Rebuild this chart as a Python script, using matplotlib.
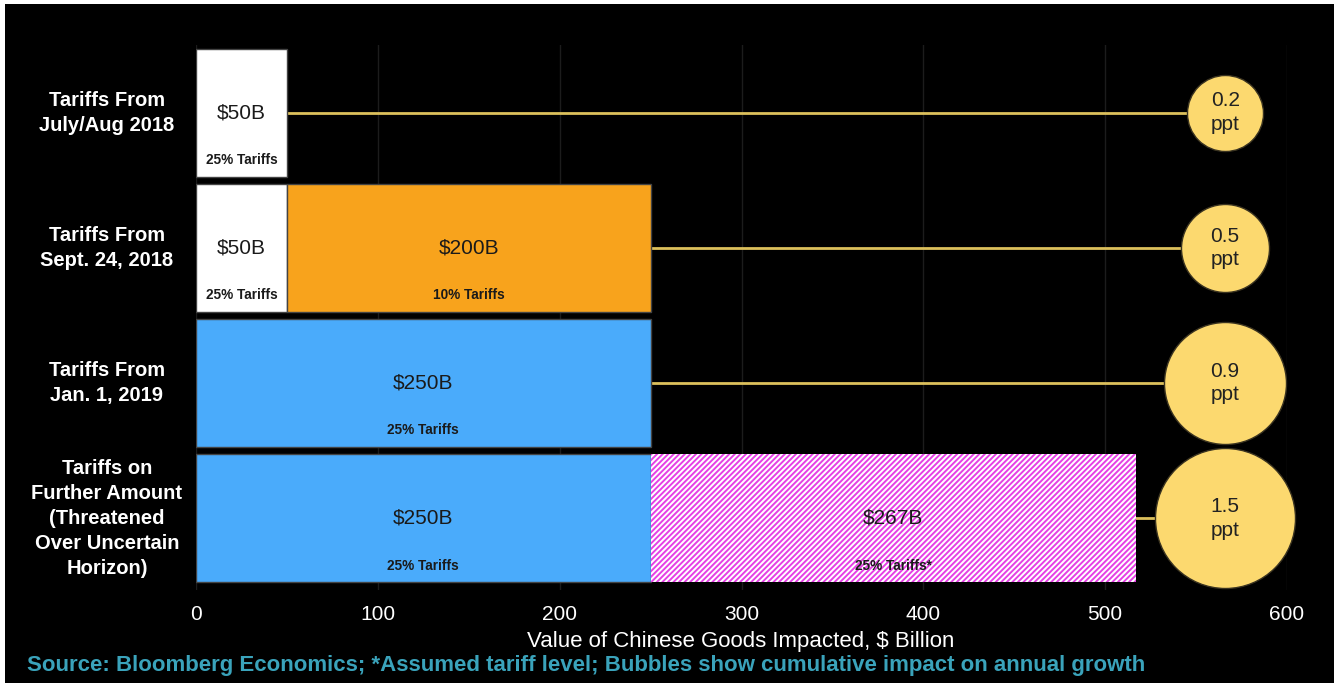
import matplotlib.pyplot as plt
from matplotlib.patches import Rectangle
from matplotlib.transforms import blended_transform_factory

plt.rcParams['font.family'] = ['Liberation Sans', 'DejaVu Sans']
plt.rcParams['hatch.linewidth'] = 1.4

# data
row_labels = [
    'Tariffs From\nJuly/Aug 2018',
    'Tariffs From\nSept. 24, 2018',
    'Tariffs From\nJan. 1, 2019',
    'Tariffs on\nFurther Amount\n(Threatened\nOver Uncertain\nHorizon)',
]
# segments per row: (start, width, kind, amount label, tariff label)
segments = [
    [(0, 50, 'first', '$50B', '25% Tariffs')],
    [(0, 50, 'first', '$50B', '25% Tariffs'),
     (50, 200, 'second', '$200B', '10% Tariffs')],
    [(0, 250, 'combined', '$250B', '25% Tariffs')],
    [(0, 250, 'combined', '$250B', '25% Tariffs'),
     (250, 267, 'threat', '$267B', '25% Tariffs*')],
]
impact_ppt = [0.2, 0.5, 0.9, 1.5]
bubble_x = 566
xticks = [0, 100, 200, 300, 400, 500, 600]

# styles
bubble_radius_px = [38, 44, 61, 70]
fills = {'first': '#ffffff', 'second': '#f8a31c', 'combined': '#4aabfb', 'threat': '#ffffff'}
yellow = '#fcd96f'
line_yellow = '#dcc05c'
teal = '#3aa3bb'

W, H, DPI = 1334, 683, 100
fig = plt.figure(figsize=(W / DPI, H / DPI), dpi=DPI)
fig.patch.set_facecolor('white')
fig.patches.append(Rectangle((5 / W, 0), 1, 1 - 4 / H, transform=fig.transFigure,
                             facecolor='black', edgecolor='none', zorder=-10))

ax = fig.add_axes([196 / W, 1 - 590 / H, (1287 - 196) / W, (590 - 45) / H])
ax.set_facecolor('black')
ax.set_xlim(0, 600)
ax.set_ylim(3.53, -0.5)
ax.set_xticks(xticks)
ax.set_yticks([])
for s in ax.spines.values():
    s.set_visible(False)
ax.tick_params(axis='x', length=0, pad=11, labelsize=15, labelcolor='white')
ax.grid(axis='x', color='#1c1c1c', linewidth=1)
ax.set_axisbelow(True)

bar_h = 0.945
for i, row in enumerate(segments):
    for start, width, kind, amount, tariff in row:
        hatch = '//////' if kind == 'threat' else None
        ec = '#e63fe6' if kind == 'threat' else '#444444'
        ax.barh(i, width, left=start, height=bar_h, color=fills[kind],
                edgecolor=ec, linewidth=0 if hatch else 1, hatch=hatch, zorder=2)
        cx = start + width / 2
        ax.text(cx, i, amount, ha='center', va='center', fontsize=15,
                color='#1a1a1a', zorder=4)
        ax.text(cx, i + 0.35, tariff, ha='center', va='center', fontsize=9.8,
                fontweight='bold', color='#1a1a1a', zorder=4)

# connectors and bubbles
for i, row in enumerate(segments):
    end = row[-1][0] + row[-1][1]
    ax.plot([end, bubble_x], [i, i], color=line_yellow, linewidth=2, zorder=1.5)
    d_pt = 2 * bubble_radius_px[i] * 72 / DPI
    ax.scatter([bubble_x], [i], s=d_pt ** 2, color=yellow, edgecolor='#3a3320',
               linewidth=1, zorder=5, clip_on=False)
    ax.text(bubble_x, i, f'{impact_ppt[i]}\nppt', ha='center', va='center',
            fontsize=15, color='#222222', zorder=6, linespacing=1.3)

trans = blended_transform_factory(ax.transAxes, ax.transData)
for i, lab in enumerate(row_labels):
    ax.text(-0.0816, i, lab, transform=trans, ha='center', va='center',
            fontsize=14.5, fontweight='bold', color='white', linespacing=1.4)

fig.text(741 / W, 1 - 641 / H, 'Value of Chinese Goods Impacted, $ Billion',
         ha='center', va='center', fontsize=16, color='white')
fig.text(27 / W, 1 - 666 / H,
         'Source: Bloomberg Economics; *Assumed tariff level; Bubbles show cumulative impact on annual growth',
         ha='left', va='center', fontsize=16, fontweight='bold', color=teal)

fig.savefig('out.png', dpi=DPI, facecolor=fig.get_facecolor())
